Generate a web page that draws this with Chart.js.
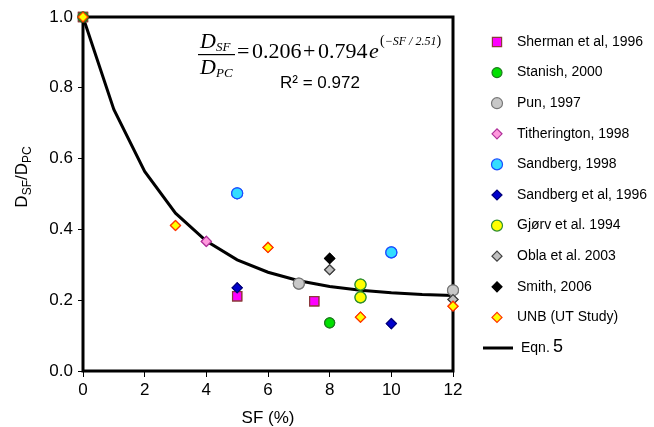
<!DOCTYPE html>
<html>
<head>
<meta charset="utf-8">
<script src="https://cdn.jsdelivr.net/npm/chart.js@4.4.1/dist/chart.umd.min.js"></script>
<style>
  html,body{margin:0;padding:0;background:#fff;}
  #wrap{width:654px;height:427px;}
</style>
</head>
<body>
<div id="wrap"><canvas id="c" width="654" height="427"></canvas></div>
<script>
// Data (SF %, D_SF/D_PC)
const shermanX = [0, 5, 7.5];        const shermanY = [1.0, 0.211, 0.197];
const stanishX = [0, 8];             const stanishY = [1.0, 0.136];
const punX = [7, 12];                const punY = [0.247, 0.228];
const tithX = [4];                   const tithY = [0.366];
const sandbergX = [5, 10];           const sandbergY = [0.502, 0.335];
const sandbergAlX = [5, 10];         const sandbergAlY = [0.235, 0.134];
const gjorvX = [9, 9];               const gjorvY = [0.244, 0.208];
const oblaX = [8, 12];               const oblaY = [0.286, 0.202];
const smithX = [8];                  const smithY = [0.318];
const unbX = [0, 3, 6, 9, 12];       const unbY = [1.0, 0.411, 0.349, 0.152, 0.183];
// Eqn. 5 curve, read at whole SF steps
const eqnX = [0, 1, 2, 3, 4, 5, 6, 7, 8, 9, 10, 11, 12];
const eqnY = [1.0, 0.739, 0.564, 0.446, 0.367, 0.314, 0.279, 0.255, 0.239, 0.228, 0.221, 0.216, 0.213];
const xTicks = [0, 2, 4, 6, 8, 10, 12];
const yTicks = [0, 0.2, 0.4, 0.6, 0.8, 1.0];

const pts = (xs, ys) => xs.map((x, i) => ({ x, y: ys[i] }));

const series = [
  { label: "Sherman et al, 1996", d: pts(shermanX, shermanY), style: "rect", r: 6.5, bg: "#ff00ff", bd: "#8b3a3a" },
  { label: "Stanish, 2000", d: pts(stanishX, stanishY), style: "circle", r: 5, bg: "#00e000", bd: "#1f7a1f" },
  { label: "Pun, 1997", d: pts(punX, punY), style: "circle", r: 5.5, bg: "#c8c8c8", bd: "#777777" },
  { label: "Titherington, 1998", d: pts(tithX, tithY), style: "rectRot", r: 5, bg: "#ff99dd", bd: "#b0309a" },
  { label: "Sandberg, 1998", d: pts(sandbergX, sandbergY), style: "circle", r: 5.5, bg: "#33ddff", bd: "#1a4dff" },
  { label: "Sandberg et al, 1996", d: pts(sandbergAlX, sandbergAlY), style: "rectRot", r: 5, bg: "#0000cc", bd: "#00007a" },
  { label: "Gjørv et al. 1994", d: pts(gjorvX, gjorvY), style: "circle", r: 5.5, bg: "#ffff00", bd: "#2f8f2f" },
  { label: "Obla et al. 2003", d: pts(oblaX, oblaY), style: "rectRot", r: 5, bg: "#c0c0c0", bd: "#404040" },
  { label: "Smith, 2006", d: pts(smithX, smithY), style: "rectRot", r: 5, bg: "#000000", bd: "#000000" },
  { label: "UNB (UT Study)", d: pts(unbX, unbY), style: "rectRot", r: 5, bg: "#ffff00", bd: "#ff3300" }
];

const datasets = series.map((s, i) => ({
  type: "scatter", label: s.label, data: s.d,
  pointStyle: s.style, pointRadius: s.r, pointHoverRadius: s.r,
  backgroundColor: s.bg, borderColor: s.bd, pointBorderWidth: 1.2,
  clip: false, order: series.length - i
}));
datasets.push({
  type: "line", label: "Eqn. 5", data: pts(eqnX, eqnY),
  borderColor: "#000", borderWidth: 3, pointRadius: 0, tension: 0,
  fill: false, clip: false, order: 99
});

const FONT = '"Liberation Sans", Arial, sans-serif';
const SERIF = '"Liberation Serif", "Times New Roman", serif';

// frame, titles, equation, legend
const decor = {
  id: "decor",
  afterDatasetsDraw(chart) {
    const { ctx, chartArea: a } = chart;
    ctx.save();
    ctx.strokeStyle = "#000"; ctx.lineWidth = 3;
    ctx.strokeRect(a.left, a.top, a.right - a.left, a.bottom - a.top);
    ctx.restore();
    // redraw points on top of the frame
    chart.getSortedVisibleDatasetMetas().slice().reverse().forEach(m => {
      if (m.type === "scatter") m.data.forEach(el => el.draw(ctx, null));
    });
  },
  afterDraw(chart) {
    const { ctx, chartArea: a } = chart;
    ctx.save();
    ctx.fillStyle = "#000";
    ctx.textBaseline = "alphabetic";

    // x title
    ctx.font = "17px " + FONT; ctx.textAlign = "center";
    ctx.fillText("SF (%)", (a.left + a.right) / 2, 423);

    // y title with subscripts
    ctx.save();
    ctx.translate(27, 177); ctx.rotate(-Math.PI / 2);
    const parts = [["D", 17, 0], ["SF", 12, 4], ["/D", 17, 0], ["PC", 12, 4]];
    ctx.textAlign = "left";
    let tw = 0;
    parts.forEach(p => { ctx.font = p[1] + "px " + FONT; tw += ctx.measureText(p[0]).width; });
    let px = -tw / 2;
    parts.forEach(p => { ctx.font = p[1] + "px " + FONT; ctx.fillText(p[0], px, p[2]); px += ctx.measureText(p[0]).width; });
    ctx.restore();

    // equation
    ctx.textAlign = "left";
    ctx.font = "italic 22px " + SERIF; ctx.fillText("D", 200, 48);
    ctx.font = "italic 13px " + SERIF; ctx.fillText("SF", 216, 51);
    ctx.fillRect(198, 54, 37, 1.2);
    ctx.font = "italic 22px " + SERIF; ctx.fillText("D", 200, 74);
    ctx.font = "italic 13px " + SERIF; ctx.fillText("PC", 216, 77);
    ctx.font = "22px " + SERIF;
    ctx.fillText("=", 237, 58);
    ctx.fillText("0.206", 252, 58);
    ctx.fillText("+", 303, 58);
    ctx.fillText("0.794", 318, 58);
    ctx.font = "italic 22px " + SERIF; ctx.fillText("e", 369, 58);
    let sx = 380;
    ctx.font = "14px " + SERIF; ctx.fillText("(", sx, 45); sx += ctx.measureText("(").width;
    ctx.font = "italic 12px " + SERIF; ctx.fillText("\u2212SF / 2.51", sx, 45); sx += ctx.measureText("\u2212SF / 2.51").width;
    ctx.font = "14px " + SERIF; ctx.fillText(")", sx, 45);
    ctx.font = "17px " + FONT; ctx.fillText("R\u00b2 = 0.972", 280, 88);

    // legend
    const lx = 497, tx = 517, y0 = 42, dy = 30.6;
    ctx.font = "14px " + FONT; ctx.textBaseline = "middle";
    series.forEach((s, i) => {
      const y = y0 + i * dy;
      ctx.fillStyle = s.bg; ctx.strokeStyle = s.bd; ctx.lineWidth = 1.2;
      Chart.helpers.drawPoint(ctx, { pointStyle: s.style, radius: s.r, rotation: 0, borderWidth: 1.2 }, lx, y);
      ctx.fillStyle = "#000";
      ctx.fillText(s.label, tx, y);
    });
    const ey = y0 + series.length * dy;
    ctx.strokeStyle = "#000"; ctx.lineWidth = 3;
    ctx.beginPath(); ctx.moveTo(483, ey); ctx.lineTo(513, ey); ctx.stroke();
    ctx.fillText("Eqn.", 521, ey);
    ctx.font = "18px " + FONT;
    ctx.fillText("5", 521 + 32, ey - 1);
    ctx.restore();
  }
};

new Chart(document.getElementById("c"), {
  type: "scatter",
  data: { datasets },
  options: {
    responsive: false, animation: false,
    layout: { padding: { top: 17, right: 201, left: 0, bottom: 0 } },
    plugins: { legend: { display: false }, tooltip: { enabled: false } },
    scales: {
      x: {
        type: "linear", min: 0, max: 12,
        afterBuildTicks: s => { s.ticks = xTicks.map(v => ({ value: v })); },
        afterFit: s => { s.height = 56; },
        ticks: { color: "#000", font: { size: 17, family: FONT }, padding: 3, maxRotation: 0 },
        grid: { drawOnChartArea: false, drawTicks: true, tickLength: 6, tickColor: "#000", tickWidth: 1 },
        border: { display: false }
      },
      y: {
        type: "linear", min: 0, max: 1,
        afterBuildTicks: s => { s.ticks = yTicks.map(v => ({ value: v })); },
        afterFit: s => { s.width = 83; },
        ticks: { color: "#000", font: { size: 17, family: FONT }, padding: 5, callback: v => v.toFixed(1) },
        grid: { drawOnChartArea: false, drawTicks: true, tickLength: 5, tickColor: "#000", tickWidth: 1 },
        border: { display: false }
      }
    }
  },
  plugins: [decor]
});
</script>
</body>
</html>
